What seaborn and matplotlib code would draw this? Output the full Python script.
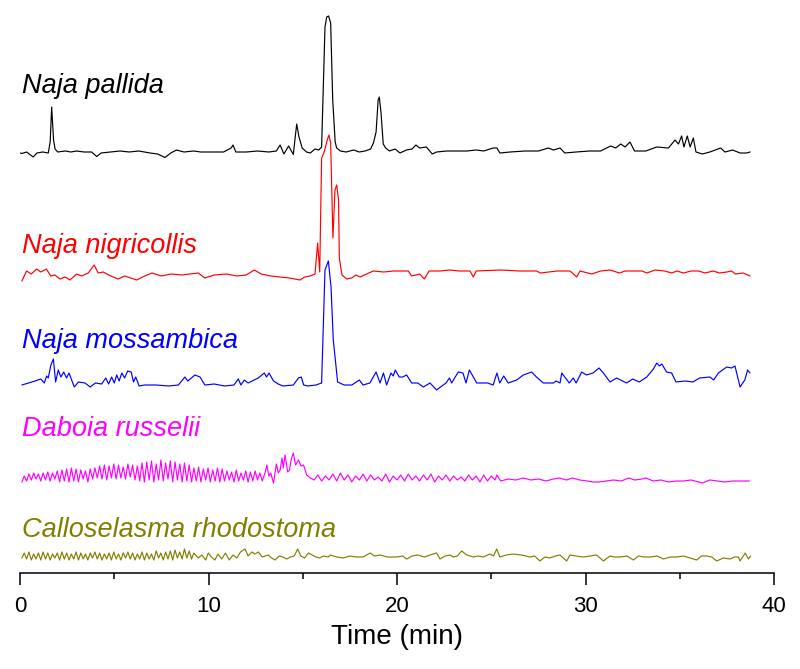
import numpy as np
import pandas as pd
import matplotlib
matplotlib.use("Agg")
import matplotlib.pyplot as plt
import seaborn as sns

# ---- data (signal relative to each trace's own baseline) ----
species = ["Naja pallida", "Naja nigricollis", "Naja mossambica",
           "Daboia russelii", "Calloselasma rhodostoma"]

pallida_t = [0.0, 0.1, 0.35, 0.7, 0.9, 1.2, 1.5, 1.6, 1.68, 1.78, 1.86, 2.0, 2.4, 2.7, 3.0,
             3.4, 3.8, 4.07, 4.3, 4.8, 5.3, 5.8, 6.3, 6.9, 7.3, 7.69, 8.0, 8.3, 8.7, 9.2,
             9.6, 10.2, 10.8, 11.2, 11.3, 11.45, 12.0, 12.6, 13.2, 13.6, 13.8, 14.0, 14.25,
             14.5, 14.6, 14.68, 14.8, 14.97, 15.2, 15.4, 15.65, 15.85, 16.0, 16.18, 16.27,
             16.37, 16.48, 16.59, 16.72, 16.8, 17.0, 17.3, 17.7, 18.0, 18.3, 18.6, 18.75,
             18.89, 19.0, 19.06, 19.15, 19.27, 19.4, 19.6, 19.9, 20.16, 20.5, 20.8, 21.0,
             21.2, 21.56, 21.87, 22.1, 22.63, 23.2, 23.7, 24.2, 24.6, 25.1, 25.3, 25.46,
             26.0, 26.8, 27.5, 28.03, 28.3, 28.65, 28.9, 29.5, 30.2, 30.8, 31.33, 31.6,
             31.87, 32.1, 32.36, 32.6, 33.2, 33.78, 34.4, 34.75, 34.93, 35.1, 35.22, 35.4,
             35.55, 35.72, 35.86, 36.2, 36.6, 37.17, 37.4, 37.8, 38.2, 38.55, 38.73]
pallida_v = [-1, -1.5, 0, -5, -1, 0, -1, 10, 45, 12, 3, 0, 1, 0, 1,
             0, 0, -4.5, -1, 0, 1, 0, 1, -1, -2, -5.5, -1, 2, 0, 1,
             0, 0, 0, 4, 7, 0, 0, 1, 0, 1, 7, -2, 6,
             -2.5, 15, 28, 15, 4, 0, -1, 3, 2, 5, 125, 135,
             136, 129, 52, 10, 4, 1, 0, 2, 0, 1, 3, 9,
             20, 52, 55, 40, 8, 4, 1, 3, -1, 2, 3, 7,
             4, 5, -2, 0, 1, 1, 1, 2, 1, 4, 4, -1,
             0, 1, 1, 4, 2, 4, -1, 0, 1, 1, 6, 4,
             8, 5, 10, 1, 1, 5, 4, 12, 8, 16, 5, 16,
             5, 14, 0, -2, 0, 4, 0, 2, -1, -1, 0]

nigri_t = [0.1, 0.35, 0.6, 0.88, 1.1, 1.4, 1.63, 1.85, 2.12, 2.4, 2.65, 3.0, 3.27, 3.62,
           3.93, 4.15, 4.42, 4.7, 5.2, 5.55, 6.19, 6.5, 7.0, 7.5, 8.0, 8.6, 9.0, 9.46, 9.8,
           10.3, 10.96, 11.5, 12.0, 12.43, 12.8, 13.3, 13.8, 14.3, 14.85, 15.1, 15.4, 15.65,
           15.79, 15.9, 16.0, 16.14, 16.3, 16.39, 16.48, 16.6, 16.71, 16.8, 16.9, 16.94,
           17.08, 17.33, 17.6, 17.82, 18.05, 18.39, 18.74, 19.3, 19.8, 20.16, 20.6, 20.77,
           21.0, 21.2, 21.45, 21.7, 22.3, 22.8, 23.3, 23.87, 24.05, 24.2, 25.5, 26.5, 27.41,
           27.6, 28.5, 29.18, 29.53, 29.71, 30.33, 30.8, 31.3, 31.8, 32.1, 33.0, 33.25,
           33.69, 34.2, 34.57, 34.85, 35.2, 35.6, 36.0, 36.34, 36.78, 37.1, 37.5, 37.75,
           37.95, 38.37, 38.73]
nigri_v = [-10, 0, -3, 2, -1, 2, -5, -4, -8, -6, -9, -3, -5, -2,
           6, -2, -1, -4, -8, -5, -9, -6, -2, -5, -3, -4, -3, -2, -7,
           -4, -3, -5, -4, 1, -3, -5, -6, -7, -9, -6, -5, -3,
           28, -1, 113, 119, 131, 136, 128, 33, 81, 86, 71, 13,
           -4, -8, -7, -4, -6, -3, 0, -1, 0, 0, 0, -5,
           -4, -3, -8, 0, 0, 1, 0, 0, -6, 0, 1, 0, 0,
           -2, 0, 0, -6, 0, -3, 0, 1, -2, 0, 0, -2,
           1, 0, -2, 0, -2, 0, 0, -2, 0, -2, -1, 0,
           -3, -2, -5]

mossa_t = [0.1, 0.45, 0.8, 1.1, 1.29, 1.41, 1.5, 1.64, 1.77, 1.89, 2.03, 2.17, 2.32, 2.47,
           2.6, 2.88, 3.1, 3.45, 3.72, 4.0, 4.33, 4.55, 4.7, 4.86, 5.0, 5.13, 5.26, 5.4,
           5.55, 5.71, 5.9, 6.02, 6.14, 6.32, 6.6, 7.2, 7.9, 8.4, 8.75, 8.9, 9.28, 9.55,
           9.81, 10.3, 10.85, 11.35, 11.58, 11.72, 11.9, 12.1, 12.64, 12.96, 13.08, 13.21,
           13.45, 13.7, 13.95, 14.5, 14.77, 14.92, 15.05, 15.27, 15.7, 16.0, 16.18, 16.36,
           16.5, 16.62, 16.85, 17.2, 17.6, 18.0, 18.2, 18.56, 18.89, 19.1, 19.28, 19.45,
           19.68, 19.8, 19.91, 20.12, 20.3, 20.51, 20.78, 21.1, 21.4, 21.75, 22.1, 22.45,
           22.6, 22.78, 22.9, 23.25, 23.5, 23.66, 23.84, 24.23, 24.8, 25.1, 25.3, 25.45,
           25.66, 25.9, 26.35, 26.7, 27.14, 27.4, 27.76, 28.3, 28.44, 28.65, 28.74, 28.9,
           29.14, 29.35, 29.5, 29.8, 30.05, 30.4, 30.72, 30.95, 31.3, 31.65, 32.18, 32.5,
           32.85, 33.25, 33.6, 33.78, 33.92, 34.05, 34.3, 34.57, 34.8, 35.3, 35.7, 36.05,
           36.6, 36.8, 37.05, 37.49, 37.75, 37.93, 38.2, 38.45, 38.6, 38.73]
mossa_v = [0, 2, 4, 6, 2, 9, 7, 20, 26, 3, 15, 8, 13, 7,
           12, -2, 3, 2, -2, 2, 1, 7, 1, 8, 2, 10, 4, 12,
           7, 14, 13, 3, 8, -1, 0, 0, -1, 0, 8, 4, 10, 8,
           0, 1, -1, 0, 6, 0, 5, 2, 7, 12, 8, 12,
           4, 1, -1, 0, 7, 8, 0, -1, 0, 2, 115, 124,
           98, 45, 3, 0, 0, 5, 0, 2, 13, 2, 12, 0,
           12, 9, 15, 8, 8, 10, 2, 2, -2, 2, -5, 0,
           2, 7, 2, 13, 12, 2, 15, 2, 2, 0, 12, 2,
           9, 2, 5, 10, 13, 8, 2, 2, 4, 2, 12, 8,
           2, 7, 2, 13, 10, 12, 17, 12, 3, 7, 2, 6,
           3, 8, 16, 22, 19, 21, 13, 12, 3, 4, 3, 7,
           8, 5, 12, 18, 17, 19, -2, 5, 15, 12]

# Daboia: evenly sampled saw-tooth part (0.125 min steps from 0.1), then hand-picked points
daboia_zig1 = [0, 6, 1, 8, 2, 9, 3, 8, 1, 9, 2, 10, 1, 9, 3, 11,
               0, 12, 1, 13, 0, 14, 1, 13, 0, 12, 3, 11, 0, 13, 3,
               14, 4, 16, 3, 17, 2, 16, 4, 18, 3, 17, 4, 15, 3, 18, 5, 17, 2, 16, 1,
               19, 0, 20, 2, 21, 0, 18, 2, 22, 1, 19, 3, 21, 0, 20, 2, 18, 0, 19, 1, 17,
               0, 14, 1, 15, 0, 13, 2, 14, 0, 12, 1, 14, 0, 13,
               1, 11, 2, 10, 0, 12, 1, 9, 2, 11, 0, 10, 1, 11, 2, 9, 1]
daboia_bump_t = [13.0, 13.1, 13.2, 13.3, 13.45, 13.6, 13.7, 13.8, 13.9, 13.97, 14.06,
                 14.2, 14.3, 14.38, 14.5, 14.62, 14.77, 14.91, 15.04, 15.21, 15.4]
daboia_bump_v = [9, 17, 6, 9, -1, 18, 9, 12, 24, 14, 27,
                 10, 12, 22, 29, 17, 22, 16, 17, 7, 4]
# 0.2 min steps from 15.6
daboia_zig2 = [2, 7, 1, 6, 2, 8, 1, 9, 2, 7, 0, 6, 2, 8, 1, 7, 2, 5, 1, 8, 0, 6, 2, 7, 1,
               8, 2, 6, 1, 7, 2, 8, 0, 6, 2, 7, 1, 6, 2, 5, 1, 7, 2, 6, 0, 7, 1, 6, 2]
daboia_tail_t = [25.3, 25.5, 25.9, 26.3, 26.7, 27.1, 27.5, 27.9, 28.3, 28.6, 29.0, 29.3, 29.7,
                 30.1, 30.4, 30.7, 31.1, 31.5, 31.9, 32.3, 32.6, 33.0, 33.2, 33.6, 34.0, 34.4,
                 34.8, 35.2, 35.6, 36.0, 36.2, 36.6, 37.0, 37.4, 37.8, 38.2, 38.7]
daboia_tail_v = [7, 1, 3, 2, 4, 2, 3, 1, 3, 4, 2, 4, 2,
                 1, 0, 0, 1, 2, 1, 4, 2, 3, 4, 1, 2, 0,
                 1, 1, 2, 0, -1, 2, 1, 0, 1, 1, 1]

# Calloselasma: evenly sampled part (0.125 min steps from 0.1), then hand-picked points
callo_zig = [-1, 4, -2, 5, -3, 3, -2, 4, -3, 5,
             -2, 4, -3, 3, -1, 4, -3, 5, -2, 4,
             -3, 3, -2, 5, -3, 4, -2, 3, -3, 4,
             -1, 5, -2, 4, -3, 3, -2, 4, -3, 5,
             -2, 3, -3, 4, -1, 5, -2, 4, -3, 3,
             -2, 5, -3, 4, -2, 3, -3, 6, -1, 4,
             -3, 5, -2, 6, -3, 7, -1, 5, -2, 8,
             -1, 6, -2, 4]
callo_t = [9.45, 9.65, 9.85, 9.99, 10.15, 10.34, 10.5, 10.7, 10.9, 11.1,
           11.3, 11.5, 11.7, 11.94, 12.1, 12.3, 12.47, 12.65, 12.85, 13.17,
           13.35, 13.53, 13.75, 13.95, 14.15, 14.35, 14.55, 14.73, 14.9, 15.1,
           15.3, 15.5, 15.7, 15.9, 16.1, 16.36,
           16.45, 16.8, 17.15, 17.5, 17.85, 18.2, 18.57, 18.8, 19.1, 19.5,
           20.0, 20.3, 20.51, 20.8, 21.1, 21.45, 21.75, 22.1, 22.28, 22.55,
           22.81, 22.99, 23.2, 23.43, 23.7, 24.05, 24.3, 24.58, 24.93, 25.12,
           25.29, 25.46, 25.8, 26.17, 26.6, 27.05, 27.3, 27.58, 27.85, 28.12,
           28.4, 28.65, 29.0, 29.18, 29.5, 29.89, 30.25, 30.59, 30.95, 31.3,
           31.55, 31.83, 32.2, 32.54, 32.81, 33.1, 33.42, 33.8, 34.13, 34.5,
           34.84, 35.2, 35.55, 35.9, 36.15, 36.43, 36.7, 36.96, 37.31, 37.67,
           37.9, 38.11, 38.2, 38.47, 38.64, 38.76]
callo_v = [-1, 2, -3, 4, 0, -3, 3, -2, 4, -3,
           2, -1, 5, 8, 1, 5, 3, 5, 0, 2,
           -1, -3, 1, 0, -2, 0, 1, 8, 1, -1,
           4, 2, 0, -1, 1, 0,
           2, 0, -1, 1, 0, 0, 4, 1, 2, 0,
           0, 1, -2, 1, 2, 0, 2, 4, -2, 1,
           2, 0, 1, 6, 2, 0, 1, 0, 3, 1,
           8, 0, 2, 3, 2, 0, 1, -4, 0, -1,
           1, 2, -4, 2, 1, 0, 1, 2, -4, 1,
           0, 0, 1, -3, 1, 0, 0, 1, -2, 0,
           0, 1, -1, -3, 1, 1, 0, -4, -1, -2,
           0, 0, -4, 4, -2, 1]

# sampling grids for the evenly spaced stretches
daboia_t = (list(np.round(0.1 + 0.125 * np.arange(len(daboia_zig1)), 3)) + daboia_bump_t
            + list(np.round(15.6 + 0.2 * np.arange(len(daboia_zig2)), 2)) + daboia_tail_t)
daboia_v = daboia_zig1 + daboia_bump_v + daboia_zig2 + daboia_tail_v
callo_t_all = list(np.round(0.1 + 0.125 * np.arange(len(callo_zig)), 3)) + callo_t
callo_v_all = callo_zig + callo_v

traces = [(pallida_t, pallida_v), (nigri_t, nigri_v), (mossa_t, mossa_v),
          (daboia_t, daboia_v), (callo_t_all, callo_v_all)]

# ---- layout / style ----
offsets = [421, 302, 188, 91, 16]
label_y = [480, 320, 225, 137, 36]
colors = ["black", "#FF0000", "#0000FF", "#FF00FF", "#808000"]

sns.set_style("white")
plt.rcParams["font.family"] = ["Liberation Sans", "DejaVu Sans"]

fig = plt.figure(figsize=(8, 6.69), dpi=100)
ax = fig.add_axes([0.025, 0.1435, 0.9425, 0.8565])

for (t, v), off, name, col, ly in zip(traces, offsets, species, colors, label_y):
    df = pd.DataFrame({"t": t, "y": np.array(v, dtype=float) + off})
    sns.lineplot(data=df, x="t", y="y", color=col, lw=0.85, sort=False,
                 estimator=None, ax=ax)
    ax.text(0.1, ly, name, color=col, fontsize=19.5, fontstyle="italic",
            ha="left", va="baseline")

ax.set_xlim(0, 40)
ax.set_ylim(0, 573)
ax.set_xticks([0, 10, 20, 30, 40])
ax.set_xticks([5, 15, 25, 35], minor=True)
ax.set_yticks([])
ax.set_ylabel("")
ax.set_xlabel("Time (min)", fontsize=20, labelpad=5, color="black")
ax.tick_params(axis="x", which="major", direction="out", length=8.6, width=1.1,
               labelsize=16, pad=8, bottom=True, color="black", labelcolor="black")
ax.tick_params(axis="x", which="minor", direction="out", length=4.3, width=1.1,
               bottom=True, color="black")
for s in ["left", "top", "right"]:
    ax.spines[s].set_visible(False)
ax.spines["bottom"].set_linewidth(1.1)
ax.spines["bottom"].set_color("black")
ax.patch.set_alpha(0)

fig.savefig("out.png", dpi=100)
